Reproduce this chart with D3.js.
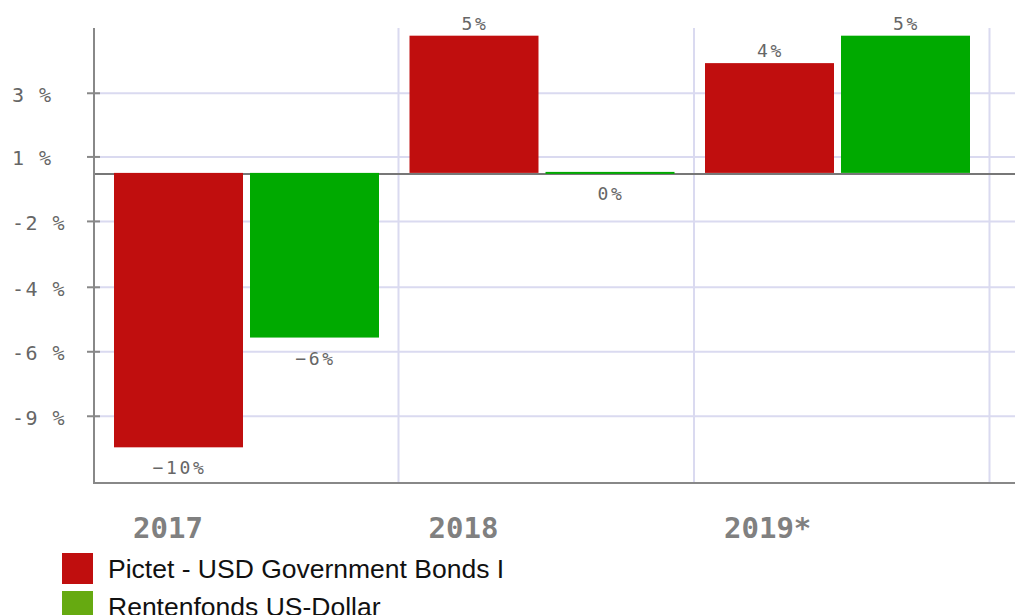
<!DOCTYPE html>
<html>
<head>
<meta charset="utf-8">
<script src="https://cdn.jsdelivr.net/npm/d3@7"></script>
<style>
  body { margin: 0; background: #fff; }
  svg { display: block; }
</style>
</head>
<body>
<script>
'use strict';

// data
var years = ["2017", "2018", "2019*"];
var seriesNames = ["Pictet - USD Government Bonds I", "Rentenfonds US-Dollar"];
var pictetValues = [-10, 5, 4];
var rentenValues = [-6, 0, 5];
var seriesColors = ["#c00e0e", "#00aa00"];
var legendColors = ["#c00e0e", "#66aa11"];
// the y grid sits at odd values, the labels are rounded
var tickValues = [2.92, 0.6, -1.75, -4.15, -6.5, -8.85];
var tickLabels = ["3 %", "1 %", "-2 %", "-4 %", "-6 %", "-9 %"];
var yDomain = [-11.3, 5.28];

var W = 1015, H = 615;
var svg = d3.select("body").append("svg")
    .attr("width", W)
    .attr("height", H);

var plotLeft = 94, plotTop = 28, plotBottom = 483;

var y = d3.scaleLinear().domain(yDomain).range([plotBottom, plotTop]);

var x = d3.scaleBand()
    .domain(years)
    .range([103, 103 + 3 * 295.5])
    .paddingInner(0).paddingOuter(0);

var xs = d3.scaleBand()
    .domain([0, 1])
    .range([11, 276])
    .paddingInner(0.0515).paddingOuter(0);

var rows = years.map(function(yr, i) {
    return {year: yr, values: [pictetValues[i], rentenValues[i]]};
});

// horizontal grid
var grid = svg.append("g")
    .attr("transform", "translate(" + plotLeft + ",0)")
    .call(d3.axisLeft(y).tickValues(tickValues).tickFormat("").tickSize(-(W - plotLeft)));
grid.select(".domain").remove();
grid.selectAll("line").attr("stroke", "#dadaf0").attr("stroke-width", 2);

// vertical grid at the category borders
var vLines = [x("2018"), x("2019*"), x("2019*") + x.bandwidth()];
svg.append("g").selectAll("line")
    .data(vLines)
    .enter().append("line")
    .attr("x1", function(d) { return d; })
    .attr("x2", function(d) { return d; })
    .attr("y1", plotTop)
    .attr("y2", plotBottom)
    .attr("stroke", "#dadaf0")
    .attr("stroke-width", 2);

// zero line
svg.append("line")
    .attr("x1", plotLeft).attr("x2", W)
    .attr("y1", y(0) + 1).attr("y2", y(0) + 1)
    .attr("stroke", "#777")
    .attr("stroke-width", 2);

// bars
var groups = svg.selectAll(".year")
    .data(rows)
    .enter().append("g")
    .attr("class", "year")
    .attr("transform", function(d) { return "translate(" + x(d.year) + ",0)"; });

groups.selectAll("rect")
    .data(function(d) { return d.values; })
    .enter().append("rect")
    .attr("x", function(d, i) { return xs(i); })
    .attr("width", xs.bandwidth())
    .attr("y", function(d) { return d > 0 ? y(d) : (d == 0 ? y(0) - 1 : y(0)); })
    .attr("height", function(d) { return d == 0 ? 2 : Math.abs(y(d) - y(0)); })
    .attr("fill", function(d, i) { return seriesColors[i]; });

groups.selectAll("text")
    .data(function(d) { return d.values; })
    .enter().append("text")
    .attr("x", function(d, i) { return xs(i) + xs.bandwidth() / 2 + 1; })
    .attr("y", function(d) { return d > 0 ? y(d) - 6 : y(d) + 27; })
    .attr("text-anchor", "middle")
    .attr("font-family", "DejaVu Sans Mono, monospace")
    .attr("font-size", 18)
    .attr("letter-spacing", 2.7)
    .attr("fill", "#666")
    .text(function(d) { return d3.format(".0f")(d) + "%"; });

// y axis
var yAxis = svg.append("g")
    .attr("transform", "translate(" + plotLeft + ",0)")
    .call(d3.axisLeft(y).tickValues(tickValues)
        .tickFormat(function(d, i) { return tickLabels[i]; })
        .tickSizeOuter(0));
yAxis.select(".domain")
    .attr("d", "M0," + plotTop + "V" + plotBottom)
    .attr("stroke", "#888").attr("stroke-width", 2);
yAxis.selectAll(".tick line")
    .attr("x1", -7).attr("x2", 6)
    .attr("stroke", "#888").attr("stroke-width", 2);
yAxis.selectAll(".tick text")
    .attr("x", 12 - plotLeft)
    .attr("dy", "0.42em")
    .attr("text-anchor", "start")
    .attr("font-family", "DejaVu Sans Mono, monospace")
    .attr("font-size", 20)
    .attr("letter-spacing", 1.5)
    .attr("fill", "#666");

// x axis
var xAxis = svg.append("g")
    .attr("transform", "translate(0," + plotBottom + ")")
    .call(d3.axisBottom(x).tickSize(0).tickSizeOuter(0));
xAxis.select(".domain")
    .attr("d", "M" + (plotLeft - 1) + ",0H" + W)
    .attr("stroke", "#888").attr("stroke-width", 2);
xAxis.selectAll(".tick text")
    .attr("x", -x.bandwidth() / 2 + 30)
    .attr("y", 55)
    .attr("dy", 0)
    .attr("text-anchor", "start")
    .attr("font-family", "DejaVu Sans Mono, monospace")
    .attr("font-weight", "bold")
    .attr("font-size", 29)
    .attr("fill", "#808080");

// legend
var legend = svg.selectAll(".legend")
    .data(seriesNames)
    .enter().append("g")
    .attr("class", "legend")
    .attr("transform", function(d, i) { return "translate(62," + (553 + i * 38) + ")"; });

legend.append("rect")
    .attr("width", 31)
    .attr("height", 31)
    .attr("fill", function(d, i) { return legendColors[i]; });

legend.append("text")
    .attr("x", 46)
    .attr("y", 25)
    .attr("font-family", "Liberation Sans, Arial, sans-serif")
    .attr("font-size", 26.5)
    .attr("fill", "#111")
    .text(function(d) { return d; });
</script>
</body>
</html>
